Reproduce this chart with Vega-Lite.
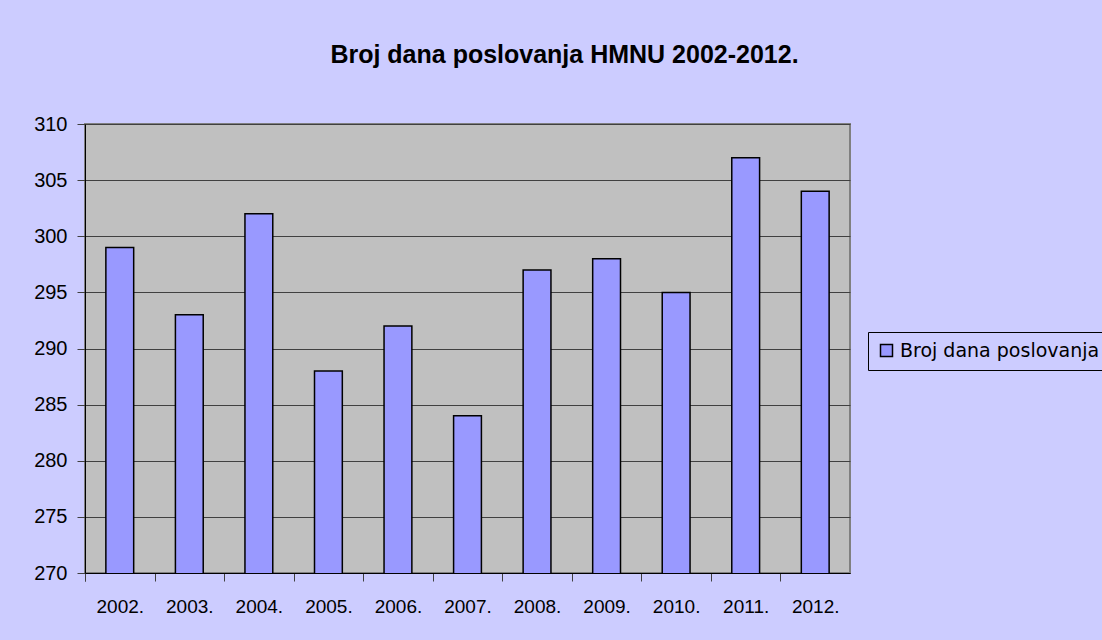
{
  "$schema": "https://vega.github.io/schema/vega-lite/v6.json",
  "autosize": {"type": "none"},
  "width": 765,
  "height": 449,
  "padding": {"left": 85, "top": 124, "right": 252, "bottom": 67},
  "background": "#CCCCFF",
  "title": {
    "text": "Broj dana poslovanja HMNU 2002-2012.",
    "font": "Liberation Sans",
    "fontSize": 25,
    "fontWeight": "bold",
    "color": "#000000",
    "anchor": "middle",
    "dx": 97,
    "baseline": "alphabetic",
    "offset": 26
  },
  "data": {
    "values": [
      {"godina": "2002.", "dani": 299, "serija": "Broj dana poslovanja"},
      {"godina": "2003.", "dani": 293, "serija": "Broj dana poslovanja"},
      {"godina": "2004.", "dani": 302, "serija": "Broj dana poslovanja"},
      {"godina": "2005.", "dani": 288, "serija": "Broj dana poslovanja"},
      {"godina": "2006.", "dani": 292, "serija": "Broj dana poslovanja"},
      {"godina": "2007.", "dani": 284, "serija": "Broj dana poslovanja"},
      {"godina": "2008.", "dani": 297, "serija": "Broj dana poslovanja"},
      {"godina": "2009.", "dani": 298, "serija": "Broj dana poslovanja"},
      {"godina": "2010.", "dani": 295, "serija": "Broj dana poslovanja"},
      {"godina": "2011.", "dani": 307, "serija": "Broj dana poslovanja"},
      {"godina": "2012.", "dani": 304, "serija": "Broj dana poslovanja"}
    ]
  },
  "mark": {"type": "bar", "stroke": "#000000", "strokeWidth": 1.5, "clip": true},
  "encoding": {
    "x": {
      "field": "godina",
      "type": "nominal",
      "sort": null,
      "scale": {"paddingInner": 0.6, "paddingOuter": 0.3},
      "axis": {
        "title": null,
        "labelAngle": 0,
        "bandPosition": 0,
        "tickExtra": true,
        "tickOffset": -20.9,
        "labelOffset": 20.9,
        "tickSize": 8,
        "tickColor": "#404040",
        "domainColor": "#000000",
        "labelFont": "Liberation Sans",
        "labelFontSize": 19,
        "labelColor": "#000000",
        "labelPadding": 16,
        "grid": false
      }
    },
    "y": {
      "field": "dani",
      "type": "quantitative",
      "scale": {"domain": [270, 310], "zero": false, "nice": false},
      "axis": {
        "title": null,
        "values": [270, 275, 280, 285, 290, 295, 300, 305, 310],
        "tickSize": 8,
        "tickColor": "#404040",
        "domainColor": "#000000",
        "gridColor": "#404040",
        "gridOpacity": 1,
        "labelFont": "Liberation Sans",
        "labelFontSize": 20,
        "labelColor": "#000000",
        "labelPadding": 10
      }
    },
    "color": {
      "field": "serija",
      "type": "nominal",
      "scale": {"range": ["#9999FF"]},
      "legend": {
        "title": null,
        "orient": "none",
        "legendX": 783,
        "legendY": 208,
        "symbolType": "square",
        "symbolSize": 144,
        "symbolStrokeColor": "#000000",
        "symbolStrokeWidth": 1.5,
        "strokeColor": "#000000",
        "fillColor": "#CCCCFF",
        "padding": 9,
        "labelFont": "DejaVu Sans",
        "labelFontSize": 19,
        "labelColor": "#000000",
        "labelLimit": 400
      }
    }
  },
  "config": {
    "view": {"fill": "#C0C0C0", "stroke": "#808080", "strokeWidth": 2}
  }
}
